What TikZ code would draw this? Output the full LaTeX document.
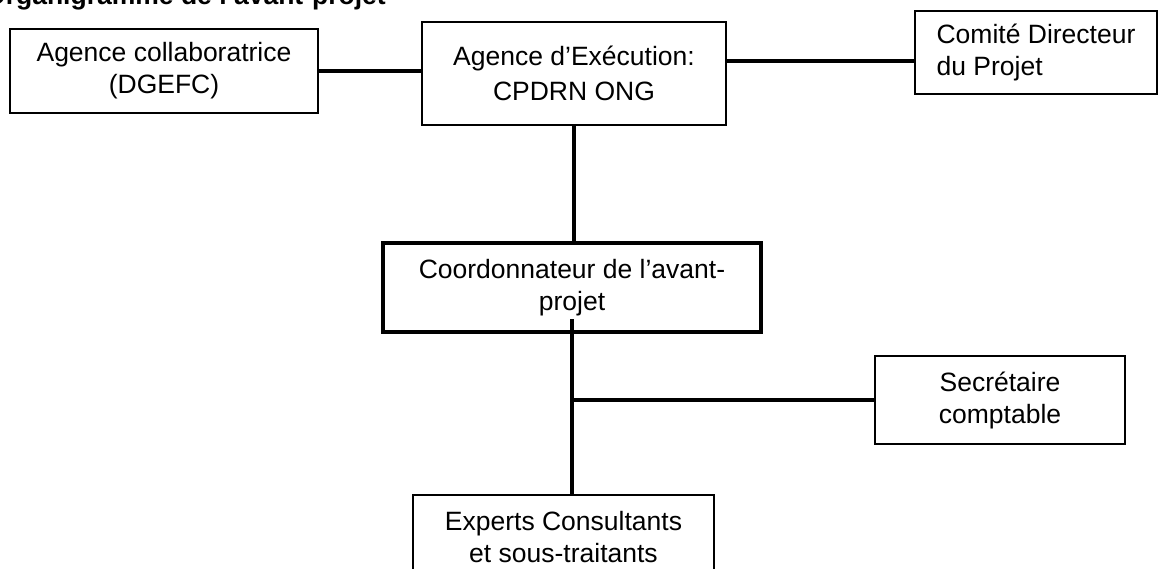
\documentclass[tikz,border=0pt]{standalone}
\usepackage{fontspec}
\setmainfont{Liberation Sans}
\tikzset{
	boite/.style={draw, line width=1.5pt, align=center, inner sep=0pt, font=\fontsize{26.5}{32}\selectfont},
	lien/.style={line width=3.5pt}
}
\begin{document}
\begin{tikzpicture}[x=1pt,y=-1pt]
				\clip (0,0) rectangle (1158,569);
				\node [anchor=base west, inner sep=0pt, font=\fontsize{26.5}{32}\selectfont\bfseries] (titre) at (-15,5) {Organigramme de l'avant-projet};

				\node [boite, minimum width=308pt, minimum height=84pt] (collab) at (164,71) {Agence collaboratrice\\(DGEFC)};
				\node [boite, minimum width=304pt, minimum height=103pt] (execution) at (574,73.5) {Agence d'Exécution:\\[3pt]CPDRN ONG};
				\node [boite, minimum width=242pt, minimum height=83pt, align=left] (comite) at (1036,52.5) {Comité Directeur\\du Projet};
				\node [boite, line width=4.5pt, minimum width=378pt, minimum height=89pt] (coord) at (572,287.5) {Coordonnateur de l'avant-\\projet};
				\node [boite, minimum width=250pt, minimum height=88pt] (secret) at (1000,400) {Secrétaire\\comptable};
				\node [boite, minimum width=301pt, minimum height=84pt] (experts) at (563.5,537) {Experts Consultants\\et sous-traitants};

				\draw [lien] (collab.east) -- (collab.east -| execution.west);
				\draw [lien] ([yshift=12.5pt]execution.east) -- ([yshift=12.5pt]execution.east -| comite.west);
				\draw [lien] (execution.south) -- (execution.south |- coord.north);
				\draw [lien] ([yshift=15pt]coord.south) -- (coord.south |- experts.north);
				\draw [lien] (coord.south |- secret.west) -- (secret.west);
			\end{tikzpicture}
\end{document}
